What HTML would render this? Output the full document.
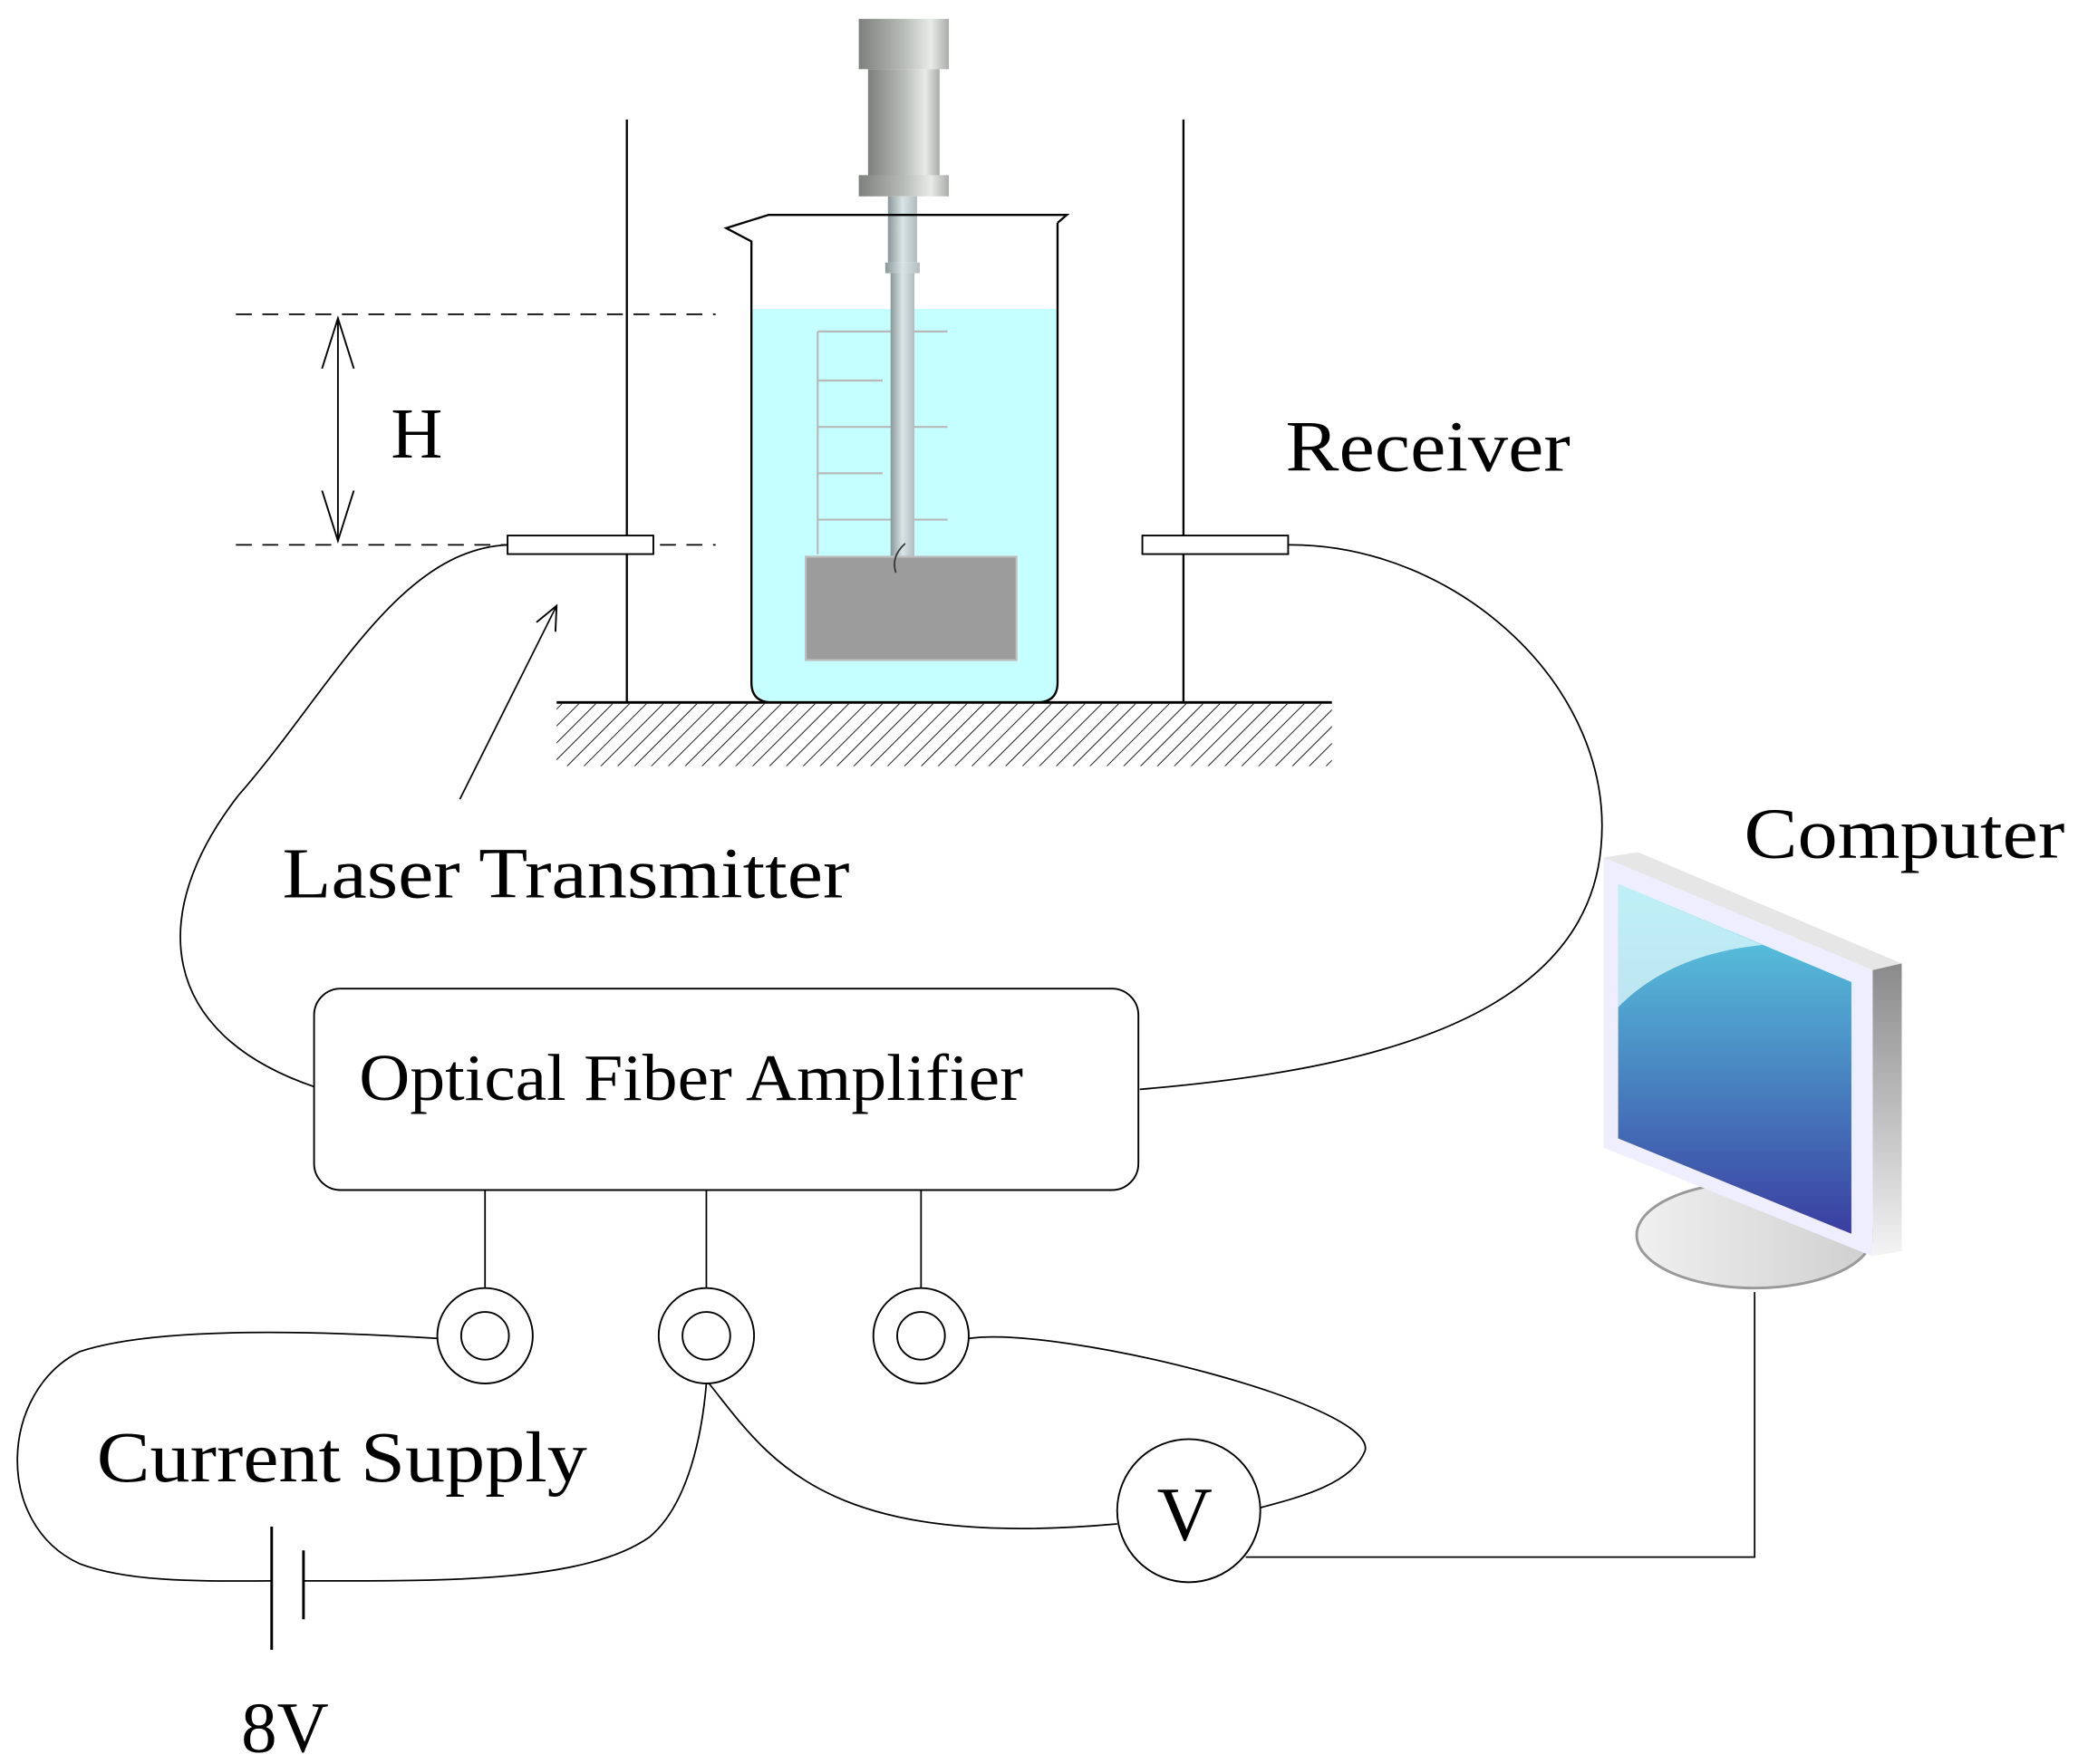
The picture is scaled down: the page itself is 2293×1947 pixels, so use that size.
<!DOCTYPE html>
<html><head><meta charset="utf-8"><style>
html,body{margin:0;padding:0;background:#fff}
svg{display:block}
text{font-family:"Liberation Serif",serif;fill:#000}
</style></head><body>
<svg width="2293" height="1947" viewBox="0 0 1568 1331" xmlns="http://www.w3.org/2000/svg">
<defs>
<linearGradient id="met" x1="0" x2="1" y1="0" y2="0">
<stop offset="0" stop-color="#7d807c"/><stop offset="0.5" stop-color="#b8bcb7"/><stop offset="0.8" stop-color="#e8ebe8"/><stop offset="1" stop-color="#a9aca8"/></linearGradient>
<linearGradient id="shaft" x1="0" x2="1"><stop offset="0" stop-color="#8a9698"/><stop offset="0.5" stop-color="#d8e4e6"/><stop offset="1" stop-color="#b0bcbe"/></linearGradient>
<linearGradient id="scr" x1="0" x2="0" y1="0" y2="1"><stop offset="0" stop-color="#5ed6e6"/><stop offset="0.5" stop-color="#4a8cc4"/><stop offset="1" stop-color="#3a3ea0"/></linearGradient>
<linearGradient id="side" x1="0" x2="0" y1="0" y2="1"><stop offset="0" stop-color="#8a8a8a"/><stop offset="0.6" stop-color="#c8c8c8"/><stop offset="1" stop-color="#f4f4f4"/></linearGradient>
<linearGradient id="base" x1="0" x2="1"><stop offset="0" stop-color="#f0f0f0"/><stop offset="1" stop-color="#cfcfcf"/></linearGradient>
<pattern id="hatch" width="9" height="9" patternUnits="userSpaceOnUse" patternTransform="rotate(45)"><line x1="0" y1="0" x2="0" y2="9" stroke="#000" stroke-width="1.2"/></pattern>
<marker id="ah" markerWidth="20" markerHeight="20" refX="18" refY="10" orient="auto" markerUnits="userSpaceOnUse"><path d="M0,2 L18,10 L0,18" fill="none" stroke="#000" stroke-width="1.3"/></marker>
<marker id="ah2" markerWidth="40" markerHeight="40" refX="38" refY="20" orient="auto-start-reverse" markerUnits="userSpaceOnUse"><path d="M0,8 L38,20 L0,32" fill="none" stroke="#000" stroke-width="1.3"/></marker>
</defs>

<rect x="648" y="14" width="68" height="38" fill="url(#met)"/>
<rect x="655" y="52" width="54" height="82" fill="url(#met)"/>
<rect x="648" y="132" width="68" height="16" fill="url(#met)"/>
<path d="M567,233 H798 V515 Q798,530 782,530 H583 Q567,530 567,515 Z" fill="#c6ffff"/>
<g stroke="#b8b8b8" stroke-width="1.5" fill="none">
<path d="M617,250 V418"/><path d="M617,250 H715 M617,287 H666 M617,322 H715 M617,357 H666 M617,392 H715"/>
</g>
<rect x="670" y="148" width="22" height="50" fill="url(#shaft)"/>
<rect x="668" y="198" width="26" height="8" fill="url(#shaft)"/>
<rect x="672" y="206" width="18" height="214" fill="url(#shaft)"/>
<rect x="608" y="420" width="159" height="78" fill="#9c9c9c" stroke="#bdbdbd" stroke-width="1.5"/>
<path d="M683,410 Q672,420 676,432" stroke="#333" fill="none" stroke-width="1.2"/>
<path d="M798,168 V515 Q798,530 782,530 H583 Q567,530 567,515 V182 L548,172 L580,162 H805 L798,168" fill="none" stroke="#000" stroke-width="1.6"/>
<path d="M473,90 V530 M893,90 V530" stroke="#000" stroke-width="1.6"/>
<rect x="420" y="531" width="585" height="47" fill="url(#hatch)"/>
<line x1="420" y1="530" x2="1005" y2="530" stroke="#000" stroke-width="2"/>
<path d="M178,237 H540 M178,411 H540" stroke="#000" stroke-width="1.2" stroke-dasharray="12,8"/>
<line x1="255" y1="240" x2="255" y2="408" stroke="#000" stroke-width="1.3" marker-end="url(#ah2)" marker-start="url(#ah2)"/>
<text x="295" y="345" font-size="54">H</text>
<rect x="383" y="404" width="110" height="14" fill="#fff" stroke="#000" stroke-width="1.3"/>
<rect x="862" y="404" width="110" height="14" fill="#fff" stroke="#000" stroke-width="1.3"/>
<line x1="347" y1="603" x2="420" y2="457" stroke="#000" stroke-width="1.2" marker-end="url(#ah)"/>
<text x="213" y="677" font-size="54" textLength="428" lengthAdjust="spacingAndGlyphs">Laser Transmitter</text>
<text x="970" y="355" font-size="54" textLength="215" lengthAdjust="spacingAndGlyphs">Receiver</text>
<text x="1316" y="647" font-size="54" textLength="242" lengthAdjust="spacingAndGlyphs">Computer</text>
<rect x="237" y="746" width="622" height="152" rx="20" fill="#fff" stroke="#000" stroke-width="1.3"/>
<text x="271" y="830" font-size="50" textLength="501" lengthAdjust="spacingAndGlyphs">Optical Fiber Amplifier</text>
<g fill="none" stroke="#000" stroke-width="1.2">
<path d="M383,411 C300,415 250,520 180,600 C110,690 120,780 237,820"/>
<path d="M972,411 C1100,410 1220,520 1208,640 C1195,780 1000,810 860,822"/>
<path d="M366,898 V972 M533,898 V972 M695,898 V972"/>
<path d="M330,1010 C250,1005 120,1000 60,1020 C0,1050 -5,1150 60,1180 C100,1195 160,1193 205,1193"/>
<path d="M229,1193 C330,1193 440,1195 490,1160 C520,1135 530,1080 533,1044"/>
<path d="M535,1044 C580,1100 620,1170 843,1150"/>
<path d="M731,1010 C800,1000 1040,1060 1030,1095 C1020,1120 980,1130 950,1138"/>
<path d="M940,1175 H1324 V975"/>
</g>
<g fill="#fff" stroke="#000" stroke-width="1.3">
<circle cx="366" cy="1008" r="36"/><circle cx="366" cy="1008" r="18"/>
<circle cx="533" cy="1008" r="36"/><circle cx="533" cy="1008" r="18"/>
<circle cx="695" cy="1008" r="36"/><circle cx="695" cy="1008" r="18"/>
<circle cx="897" cy="1140" r="54"/>
</g>
<text x="873" y="1162" font-size="58">V</text>
<text x="73" y="1118" font-size="54" textLength="370" lengthAdjust="spacingAndGlyphs">Current Supply</text>
<path d="M205,1152 V1245 M229,1170 V1222" stroke="#000" stroke-width="2"/>
<text x="182" y="1322" font-size="54">8V</text>
<ellipse cx="1324" cy="932" rx="89" ry="40" fill="url(#base)" stroke="#999" stroke-width="2"/>
<polygon points="1210,647 1236,643 1435,727 1413,732" fill="#e6e6e6"/>
<polygon points="1413,732 1435,727 1435,944 1413,948" fill="url(#side)"/>
<polygon points="1210,647 1413,732 1413,948 1210,866" fill="#eeeeff"/>
<polygon points="1221,667 1397,741 1397,931 1221,859" fill="url(#scr)"/>
<path d="M1221,667 L1330,713 Q1260,720 1221,760 Z" fill="#d8f6fa" opacity="0.8"/>
</svg>
</body></html>
